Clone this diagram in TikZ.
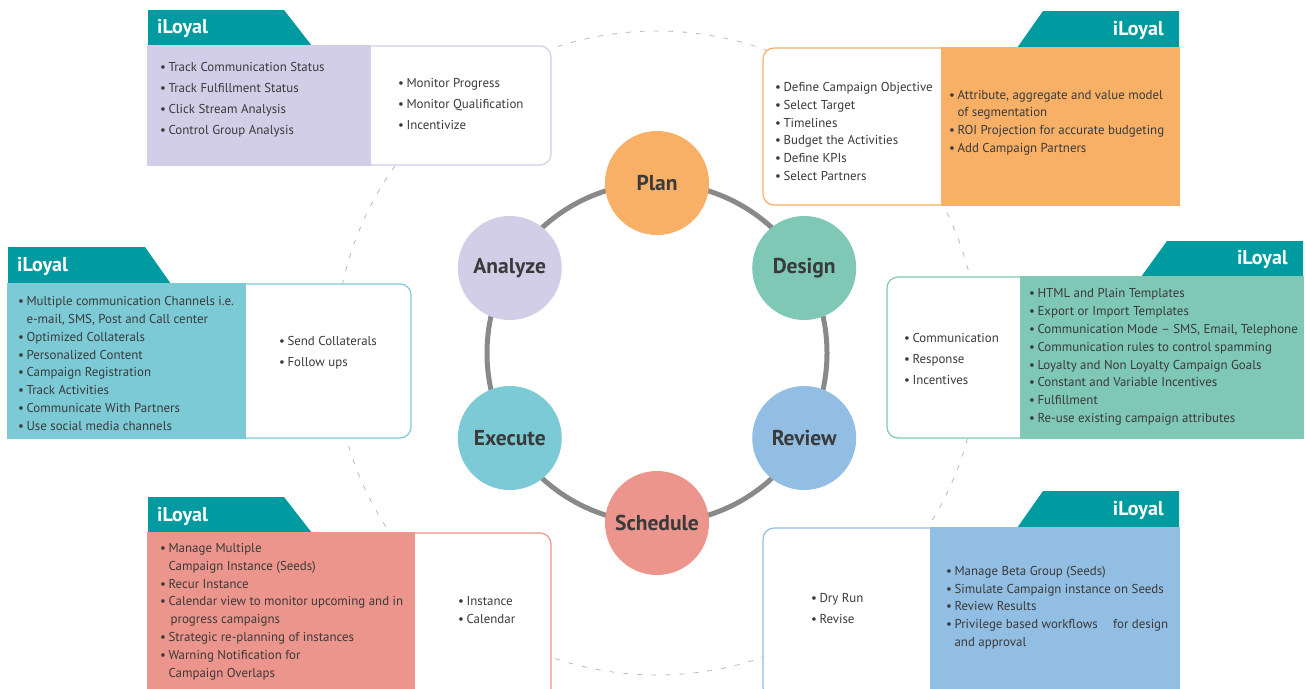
\documentclass[tikz,border=0pt]{standalone}
\usepackage{fontspec}
\setmainfont{PT Sans}
\usepackage{xcolor}
\usepackage{tikz}
\usetikzlibrary{positioning, calc}

\definecolor{tabteal}{HTML}{009AA1}
\definecolor{plancol}{HTML}{F7B066}
\definecolor{designcol}{HTML}{7FC8B6}
\definecolor{reviewcol}{HTML}{92BEE3}
\definecolor{schedcol}{HTML}{EC958C}
\definecolor{execcol}{HTML}{7CCAD6}
\definecolor{analyzecol}{HTML}{D2CEE7}
\definecolor{txtgray}{HTML}{3A3A3A}
\definecolor{ringgray}{HTML}{898989}

\newcommand{\blt}{•\kern2.5pt}
\newcommand{\bltind}{\phantom{\blt}}

\begin{document}
\begin{tikzpicture}[x=1pt, y=-1pt,
    stage/.style={circle, minimum size=104pt, inner sep=0, font=\fontsize{21.5}{24}\selectfont\bfseries, text=txtgray},
    shell/.style={draw=#1, line width=1.2pt, fill=white, rounded corners=11pt, anchor=north west, inner sep=0, outer sep=0},
    band/.style={draw=#1, line width=1.2pt, fill=#1, anchor=north west, inner sep=0, outer sep=0},
    tab/.style={fill=tabteal},
    tabtext/.style={text=white, font=\fontsize{20}{22}\selectfont\bfseries, inner sep=0},
    list/.style={text=txtgray, align=left, inner sep=0, anchor=west, font=\fontsize{12.9}{17.8}\selectfont},
    short/.style={list, font=\fontsize{12.9}{21}\selectfont}
]
    \useasboundingbox (0,0) rectangle (1305,688);
    \clip (0,0) rectangle (1305,688);
    \coordinate (ctr) at (657,353);

    % Outer dashed orbit
    \draw[gray!55, line width=0.8pt, dash pattern=on 5pt off 9pt] (ctr) circle (322pt);

    % Analyze panel
    \fill[tab] (148,10) -- (284,10) -- (312,46) -- (148,46) -- cycle;
    \node[tabtext, anchor=west] (anatab) at (157,28) {iLoyal};
    \node[shell=analyzecol, minimum width=403pt, minimum height=119pt] (anabox) at (148,46) {};
    \node[band=analyzecol, minimum width=222pt, minimum height=119pt] (anaband) at (148,46) {};
    \node[short] (anatools) at (160,99.5) {\blt Track Communication Status\\\blt Track Fulfillment Status\\\blt Click Stream Analysis\\\blt Control Group Analysis};
    \node[short] (anasteps) at (398,104) {\blt Monitor Progress\\\blt Monitor Qualification\\\blt Incentivize};

    % Plan panel
    \fill[tab] (1043,11) -- (1179,11) -- (1179,48) -- (1017,48) -- cycle;
    \node[tabtext, anchor=east] (plantab) at (1164,30) {iLoyal};
    \node[shell=plancol, minimum width=416pt, minimum height=157pt] (planbox) at (763,48) {};
    \node[band=plancol, minimum width=237pt, minimum height=157pt] (planband) at (942,48) {};
    \node[list] (plansteps) at (775,131.5) {\blt Define Campaign Objective\\\blt Select Target\\\blt Timelines\\\blt Budget the Activities\\\blt Define KPIs\\\blt Select Partners};
    \node[list] (plantools) at (949,122.5) {\blt Attribute, aggregate and value model\\\bltind of segmentation\\\blt ROI Projection for accurate budgeting\\\blt Add Campaign Partners};

    % Execute panel
    \fill[tab] (8,247) -- (145,247) -- (171,284) -- (8,284) -- cycle;
    \node[tabtext, anchor=west] (exetab) at (17,266) {iLoyal};
    \node[shell=execcol, minimum width=403pt, minimum height=154pt] (exebox) at (8,284) {};
    \node[band=execcol, minimum width=237pt, minimum height=154pt] (exeband) at (8,284) {};
    \node[list] (exetools) at (18,363.5) {\blt Multiple communication Channels i.e.\\\bltind e-mail, SMS, Post and Call center\\\blt Optimized Collaterals\\\blt Personalized Content\\\blt Campaign Registration\\\blt Track Activities\\\blt Communicate With Partners\\\blt Use social media channels};
    \node[short] (exesteps) at (279,352.5) {\blt Send Collaterals\\\blt Follow ups};

    % Design panel
    \fill[tab] (1167,241) -- (1303,241) -- (1303,277) -- (1141,277) -- cycle;
    \node[tabtext, anchor=east] (destab) at (1288,259) {iLoyal};
    \node[shell=designcol, minimum width=416pt, minimum height=161pt] (desbox) at (887,277) {};
    \node[band=designcol, minimum width=282pt, minimum height=161pt] (desband) at (1021,277) {};
    \node[short] (dessteps) at (904,359) {\blt Communication\\\blt Response\\\blt Incentives};
    \node[list] (destools) at (1029,357) {\blt HTML and Plain Templates\\\blt Export or Import Templates\\\blt Communication Mode – SMS, Email, Telephone\\\blt Communication rules to control spamming\\\blt Loyalty and Non Loyalty Campaign Goals\\\blt Constant and Variable Incentives\\\blt Fulfillment\\\blt Re-use existing campaign attributes};

    % Schedule panel
    \fill[tab] (148,497) -- (284,497) -- (312,533) -- (148,533) -- cycle;
    \node[tabtext, anchor=west] (schtab) at (157,516) {iLoyal};
    \node[shell=schedcol, minimum width=403pt, minimum height=170pt] (schbox) at (148,533) {};
    \node[band=schedcol, minimum width=266pt, minimum height=170pt] (schband) at (148,533) {};
    \node[list] (schtools) at (160,611.5) {\blt Manage Multiple\\\bltind Campaign Instance (Seeds)\\\blt Recur Instance\\\blt Calendar view to monitor upcoming and in\\\bltind\,progress campaigns\\\blt Strategic re-planning of instances\\\blt Warning Notification for\\\bltind Campaign Overlaps};
    \node[list] (schsteps) at (458,610) {\blt Instance\\\blt Calendar};

    % Review panel
    \fill[tab] (1043,491) -- (1179,491) -- (1179,528) -- (1017,528) -- cycle;
    \node[tabtext, anchor=east] (revtab) at (1164,510) {iLoyal};
    \node[shell=reviewcol, minimum width=416pt, minimum height=170pt] (revbox) at (763,528) {};
    \node[band=reviewcol, minimum width=248pt, minimum height=170pt] (revband) at (931,528) {};
    \node[short] (revsteps) at (811,608.5) {\blt Dry Run\\\blt Revise};
    \node[list] (revtools) at (946,607.5) {\blt Manage Beta Group (Seeds)\\\blt Simulate Campaign instance on Seeds\\\blt Review Results\\\blt Privilege based workflows\hspace{12pt} for design\\\bltind and approval};

    % Cycle
    \draw[ringgray, line width=5pt] (ctr) circle (170pt);
    \node[stage, fill=plancol] (plan) at ($(ctr)+(90:170pt)$) {Plan};
    \node[stage, fill=designcol] (design) at ($(ctr)+(30:170pt)$) {Design};
    \node[stage, fill=reviewcol] (review) at ($(ctr)+(-30:170pt)$) {Review};
    \node[stage, fill=schedcol] (schedule) at ($(ctr)+(-90:170pt)$) {Schedule};
    \node[stage, fill=execcol] (execute) at ($(ctr)+(210:170pt)$) {Execute};
    \node[stage, fill=analyzecol] (analyze) at ($(ctr)+(150:170pt)$) {Analyze};
\end{tikzpicture}
\end{document}
